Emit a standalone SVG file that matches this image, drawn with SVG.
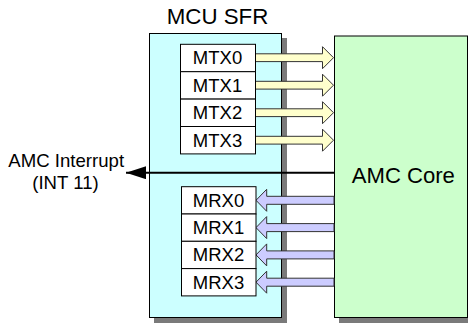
<svg xmlns="http://www.w3.org/2000/svg" width="468" height="323" viewBox="0 0 468 323">
<defs>
<style>
text{font-family:"Liberation Sans",Arial,sans-serif;fill:#000;text-anchor:middle}
.reg{fill:#fff;stroke:#000;stroke-width:1}
.lbl{font-size:18.5px}
.shadow{fill:#7a7a7a}
.tx{fill:#ffffcc;stroke:#333;stroke-width:1}
.rx{fill:#ccccff;stroke:#333;stroke-width:1}
</style>
<marker id="ah" markerWidth="20" markerHeight="13" refX="20" refY="6.5" orient="auto" markerUnits="userSpaceOnUse">
<path d="M0,0 L20,6.5 L0,13 Z" fill="#000"/>
</marker>
</defs>
<rect width="468" height="323" fill="#fff"/>
<g id="mcu-sfr">
<rect class="shadow" x="154" y="38" width="133" height="285"/>
<rect x="149.5" y="33.5" width="132" height="284" fill="#ccffff" stroke="#000" stroke-width="1"/>
<text x="217.5" y="24" style="font-size:22.3px">MCU SFR</text>
</g>
<g id="amc-core">
<rect class="shadow" x="339" y="41" width="134" height="282"/>
<rect x="334.5" y="36" width="133" height="281.5" fill="#ccffcc" stroke="#000" stroke-width="1"/>
<text x="403.3" y="182.5" style="font-size:22.1px">AMC Core</text>
</g>
<g id="connectors">
<path class="tx" d="M255.5,53.8 H322.5 V46.7 L333.5,57.7 L322.5,68.7 V61.6 H255.5 Z"/>
<path class="tx" d="M255.5,81.3 H322.5 V74.2 L333.5,85.2 L322.5,96.2 V89.1 H255.5 Z"/>
<path class="tx" d="M255.5,108.8 H322.5 V101.7 L333.5,112.7 L322.5,123.7 V116.6 H255.5 Z"/>
<path class="tx" d="M255.5,136.3 H322.5 V129.2 L333.5,140.2 L322.5,151.2 V144.1 H255.5 Z"/>
<path class="rx" d="M334,196.3 H266.7 V189.3 L256,200.3 L266.7,211.3 V204.3 H334 Z"/>
<path class="rx" d="M334,223.6 H266.7 V216.6 L256,227.6 L266.7,238.6 V231.6 H334 Z"/>
<path class="rx" d="M334,250.9 H266.7 V243.9 L256,254.9 L266.7,265.9 V258.9 H334 Z"/>
<path class="rx" d="M334,278.2 H266.7 V271.2 L256,282.2 L266.7,293.2 V286.2 H334 Z"/>
<line x1="334" y1="172.7" x2="126" y2="172.7" stroke="#000" stroke-width="2" marker-end="url(#ah)"/>
</g>
<g id="interrupt-label">
<text x="66.2" y="166.7" style="font-size:18.6px">AMC Interrupt</text>
<text x="65.5" y="189" style="font-size:18.6px">(INT 11)</text>
</g>
<g id="mtx0"><rect class="reg" x="180.5" y="44.3" width="75" height="27.4"/><text class="lbl" x="217.5" y="64.3">MTX0</text></g>
<g id="mtx1"><rect class="reg" x="180.5" y="71.7" width="75" height="27.4"/><text class="lbl" x="217.5" y="91.7">MTX1</text></g>
<g id="mtx2"><rect class="reg" x="180.5" y="99.1" width="75" height="27.4"/><text class="lbl" x="217.5" y="119.1">MTX2</text></g>
<g id="mtx3"><rect class="reg" x="180.5" y="126.5" width="75" height="27.4"/><text class="lbl" x="217.5" y="146.5">MTX3</text></g>
<g id="mrx0"><rect class="reg" x="181.5" y="186.7" width="74.5" height="27.3"/><text class="lbl" x="218.5" y="206.7">MRX0</text></g>
<g id="mrx1"><rect class="reg" x="181.5" y="214" width="74.5" height="27.3"/><text class="lbl" x="218.5" y="234">MRX1</text></g>
<g id="mrx2"><rect class="reg" x="181.5" y="241.3" width="74.5" height="27.3"/><text class="lbl" x="218.5" y="261.3">MRX2</text></g>
<g id="mrx3"><rect class="reg" x="181.5" y="268.6" width="74.5" height="27.3"/><text class="lbl" x="218.5" y="288.6">MRX3</text></g>
</svg>
